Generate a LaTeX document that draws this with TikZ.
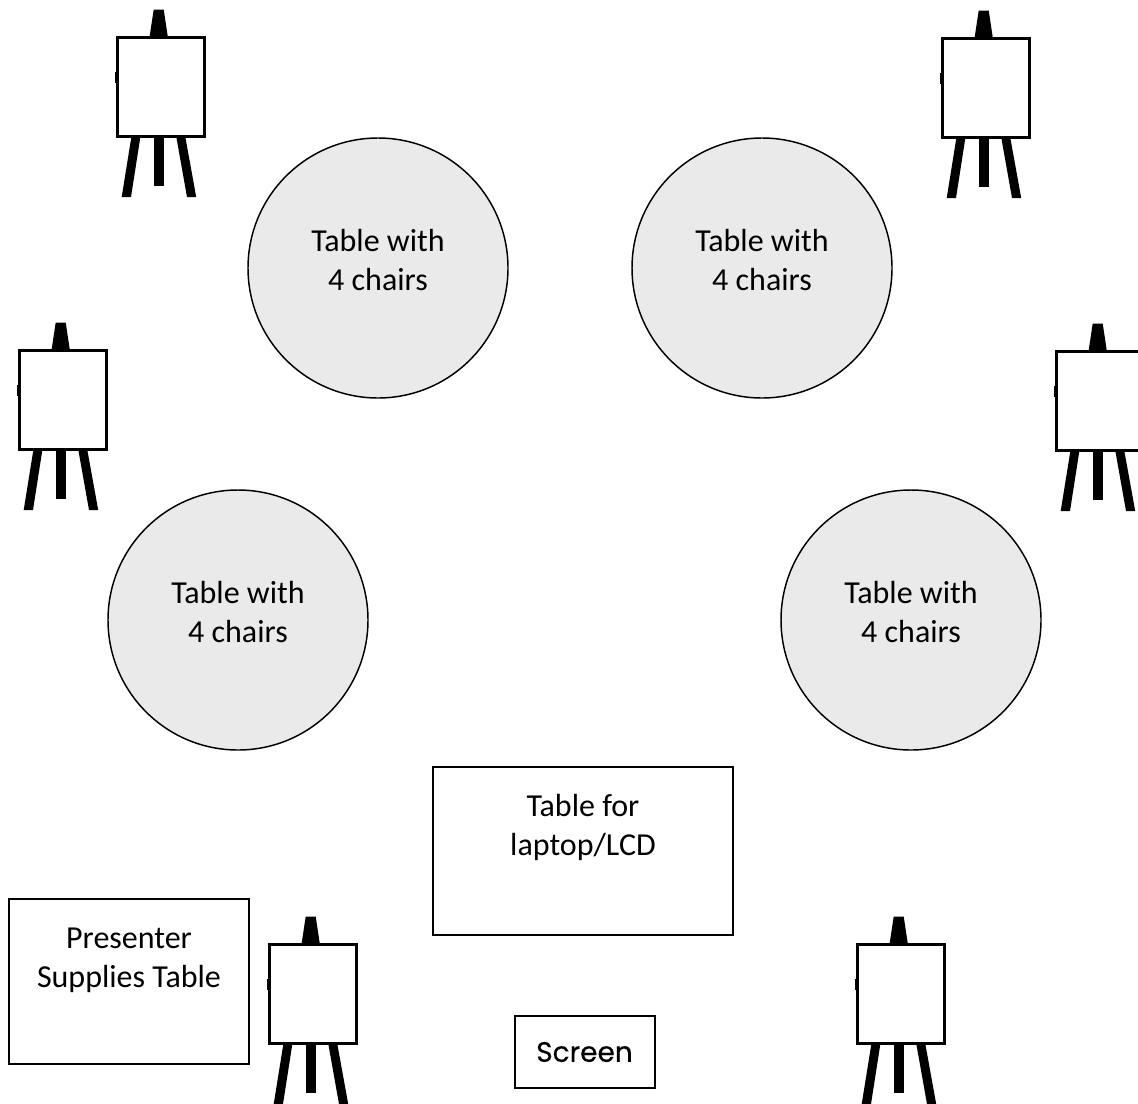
\documentclass[tikz,border=0pt]{standalone}
\usepackage{fontspec}
\setmainfont{Carlito}
\newfontfamily\screenfont[FakeBold=0.35]{Poppins}
\definecolor{tablegrey}{HTML}{EAEAEA}
\tikzset{
  x=0.75pt,y=-0.75pt,
  roundtable/.style={circle,draw=black,fill=tablegrey,line width=1.1pt,minimum size=195pt,inner sep=0pt},
  plaintable/.style={rectangle,draw=black,fill=white,line width=1.5pt,inner sep=0pt},
  tabletext/.style={align=center,inner sep=0pt,font=\fontsize{24}{29.3}\selectfont},
  easel/.pic={
    \fill[black] (37.7,-26.5) -- (47.7,-26.5) -- (51.7,0) -- (33.7,0) -- cycle;
    \fill[black] (15.2,102) -- (24.2,102) -- (15,161) -- (5.7,161) -- cycle;
    \fill[black] (37.5,102) -- (47.5,102) -- (47.5,149.7) -- (37.5,149.7) -- cycle;
    \fill[black] (60.5,102) -- (69.5,102) -- (80.2,161) -- (71,161) -- cycle;
    \fill[black] (-1,35.7) rectangle (0.5,46.7);
    \draw[black,fill=white,line width=2.2pt] (1.5,1.5) rectangle (88.5,100.5);
  }
}
\begin{document}
\begin{tikzpicture}
\useasboundingbox (0,0) rectangle (1138,1103);
\clip (0,0) rectangle (1138,1103);
\pic at (116,36) {easel};
\pic at (941,37) {easel};
\pic at (18,349) {easel};
\pic at (1055,350) {easel};
\pic at (268,943) {easel};
\pic at (856,943) {easel};
\node[roundtable] (t1) at (378,268) {};
\node[roundtable] (t2) at (762,268) {};
\node[roundtable] (t3) at (238,620) {};
\node[roundtable] (t4) at (911,620) {};
\node[tabletext] (t1text) at (378,260) {Table with\\4 chairs};
\node[tabletext] (t2text) at (762,260) {Table with\\4 chairs};
\node[tabletext] (t3text) at (238,612) {Table with\\4 chairs};
\node[tabletext] (t4text) at (911,612) {Table with\\4 chairs};
\node[plaintable,minimum width=225pt,minimum height=126pt] (laptop) at (583,851) {};
\node[tabletext,anchor=north] (laptoptext) at (583,794) {Table for\\laptop/LCD};
\node[plaintable,minimum width=180pt,minimum height=123.5pt] (supplies) at (129,981.5) {};
\node[tabletext,anchor=north] (suppliestext) at (129,928) {Presenter\\Supplies Table};
\node[rectangle,draw=black,fill=white,line width=1.5pt,minimum width=105pt,minimum height=54pt,inner sep=0pt,font=\screenfont\fontsize{21}{25}\selectfont] (screen) at (584.5,1052) {Screen};
\end{tikzpicture}
\end{document}
